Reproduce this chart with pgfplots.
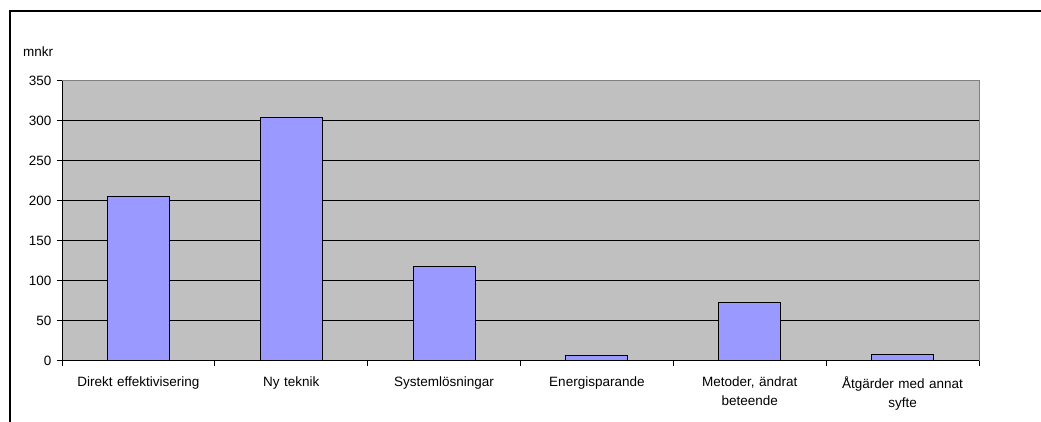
\documentclass[border=0pt]{standalone}
\usepackage{pgfplots}
\pgfplotsset{compat=1.18}
\usepackage{fontspec}
\setmainfont{Liberation Sans}
\definecolor{barfill}{HTML}{9999FF}
\definecolor{plotbg}{HTML}{C0C0C0}
\definecolor{bordergray}{HTML}{808080}
\begin{document}
\begin{tikzpicture}
\useasboundingbox (0,0) rectangle (1041pt,421pt);
\fill[white] (0,0) rectangle (1041pt,421pt);
\draw[black,line width=1.5pt] (10pt,-5pt) -- (10pt,410pt) -- (1050pt,410pt);
\node[anchor=west,font=\fontsize{13.5}{15}\selectfont,inner sep=0pt] at (23pt,369pt) {mnkr};
\begin{axis}[
  at={(62pt,60.5pt)}, anchor=south west,
  scale only axis, width=917pt, height=280pt,
  xmin=-0.5, xmax=5.5, ymin=0, ymax=350,
  axis background/.style={fill=plotbg},
  axis line style={draw=bordergray, line width=0.8pt},
  ybar, bar width=62pt,
  xtick={-0.5,0.5,1.5,2.5,3.5,4.5,5.5},
  xticklabels={Direkt effektivisering, Ny teknik, Systemlösningar, Energisparande, {Metoder, ändrat\\beteende}, {Åtgärder med annat\\syfte}, {}},
  x tick label style={xshift=76.4pt, align=center, text width=150pt, font=\fontsize{13.5}{19}\selectfont, anchor=north, yshift=-8pt},
  ytick={0,50,...,350},
  y tick label style={font=\fontsize{13.5}{15}\selectfont, xshift=-2pt},
  /pgf/number format/assume math mode=true,
  xtick pos=bottom, ytick pos=left,
  tick align=outside, major tick length=5pt,
  tick style={black, line width=0.8pt},
  ymajorgrids, grid style={black, line width=0.8pt},
  clip=false,
]
\addplot[fill=barfill, draw=black, line width=1pt] coordinates {(0,205) (1,304) (2,118) (3,6) (4,73) (5,8)};
\draw[black, line width=0.8pt] (rel axis cs:0,1) -- (rel axis cs:0,0) -- (rel axis cs:1,0);
\draw[bordergray, line width=1pt] (rel axis cs:0,1) -- (rel axis cs:1,1) -- (rel axis cs:1,0);
\end{axis}
\end{tikzpicture}
\end{document}
